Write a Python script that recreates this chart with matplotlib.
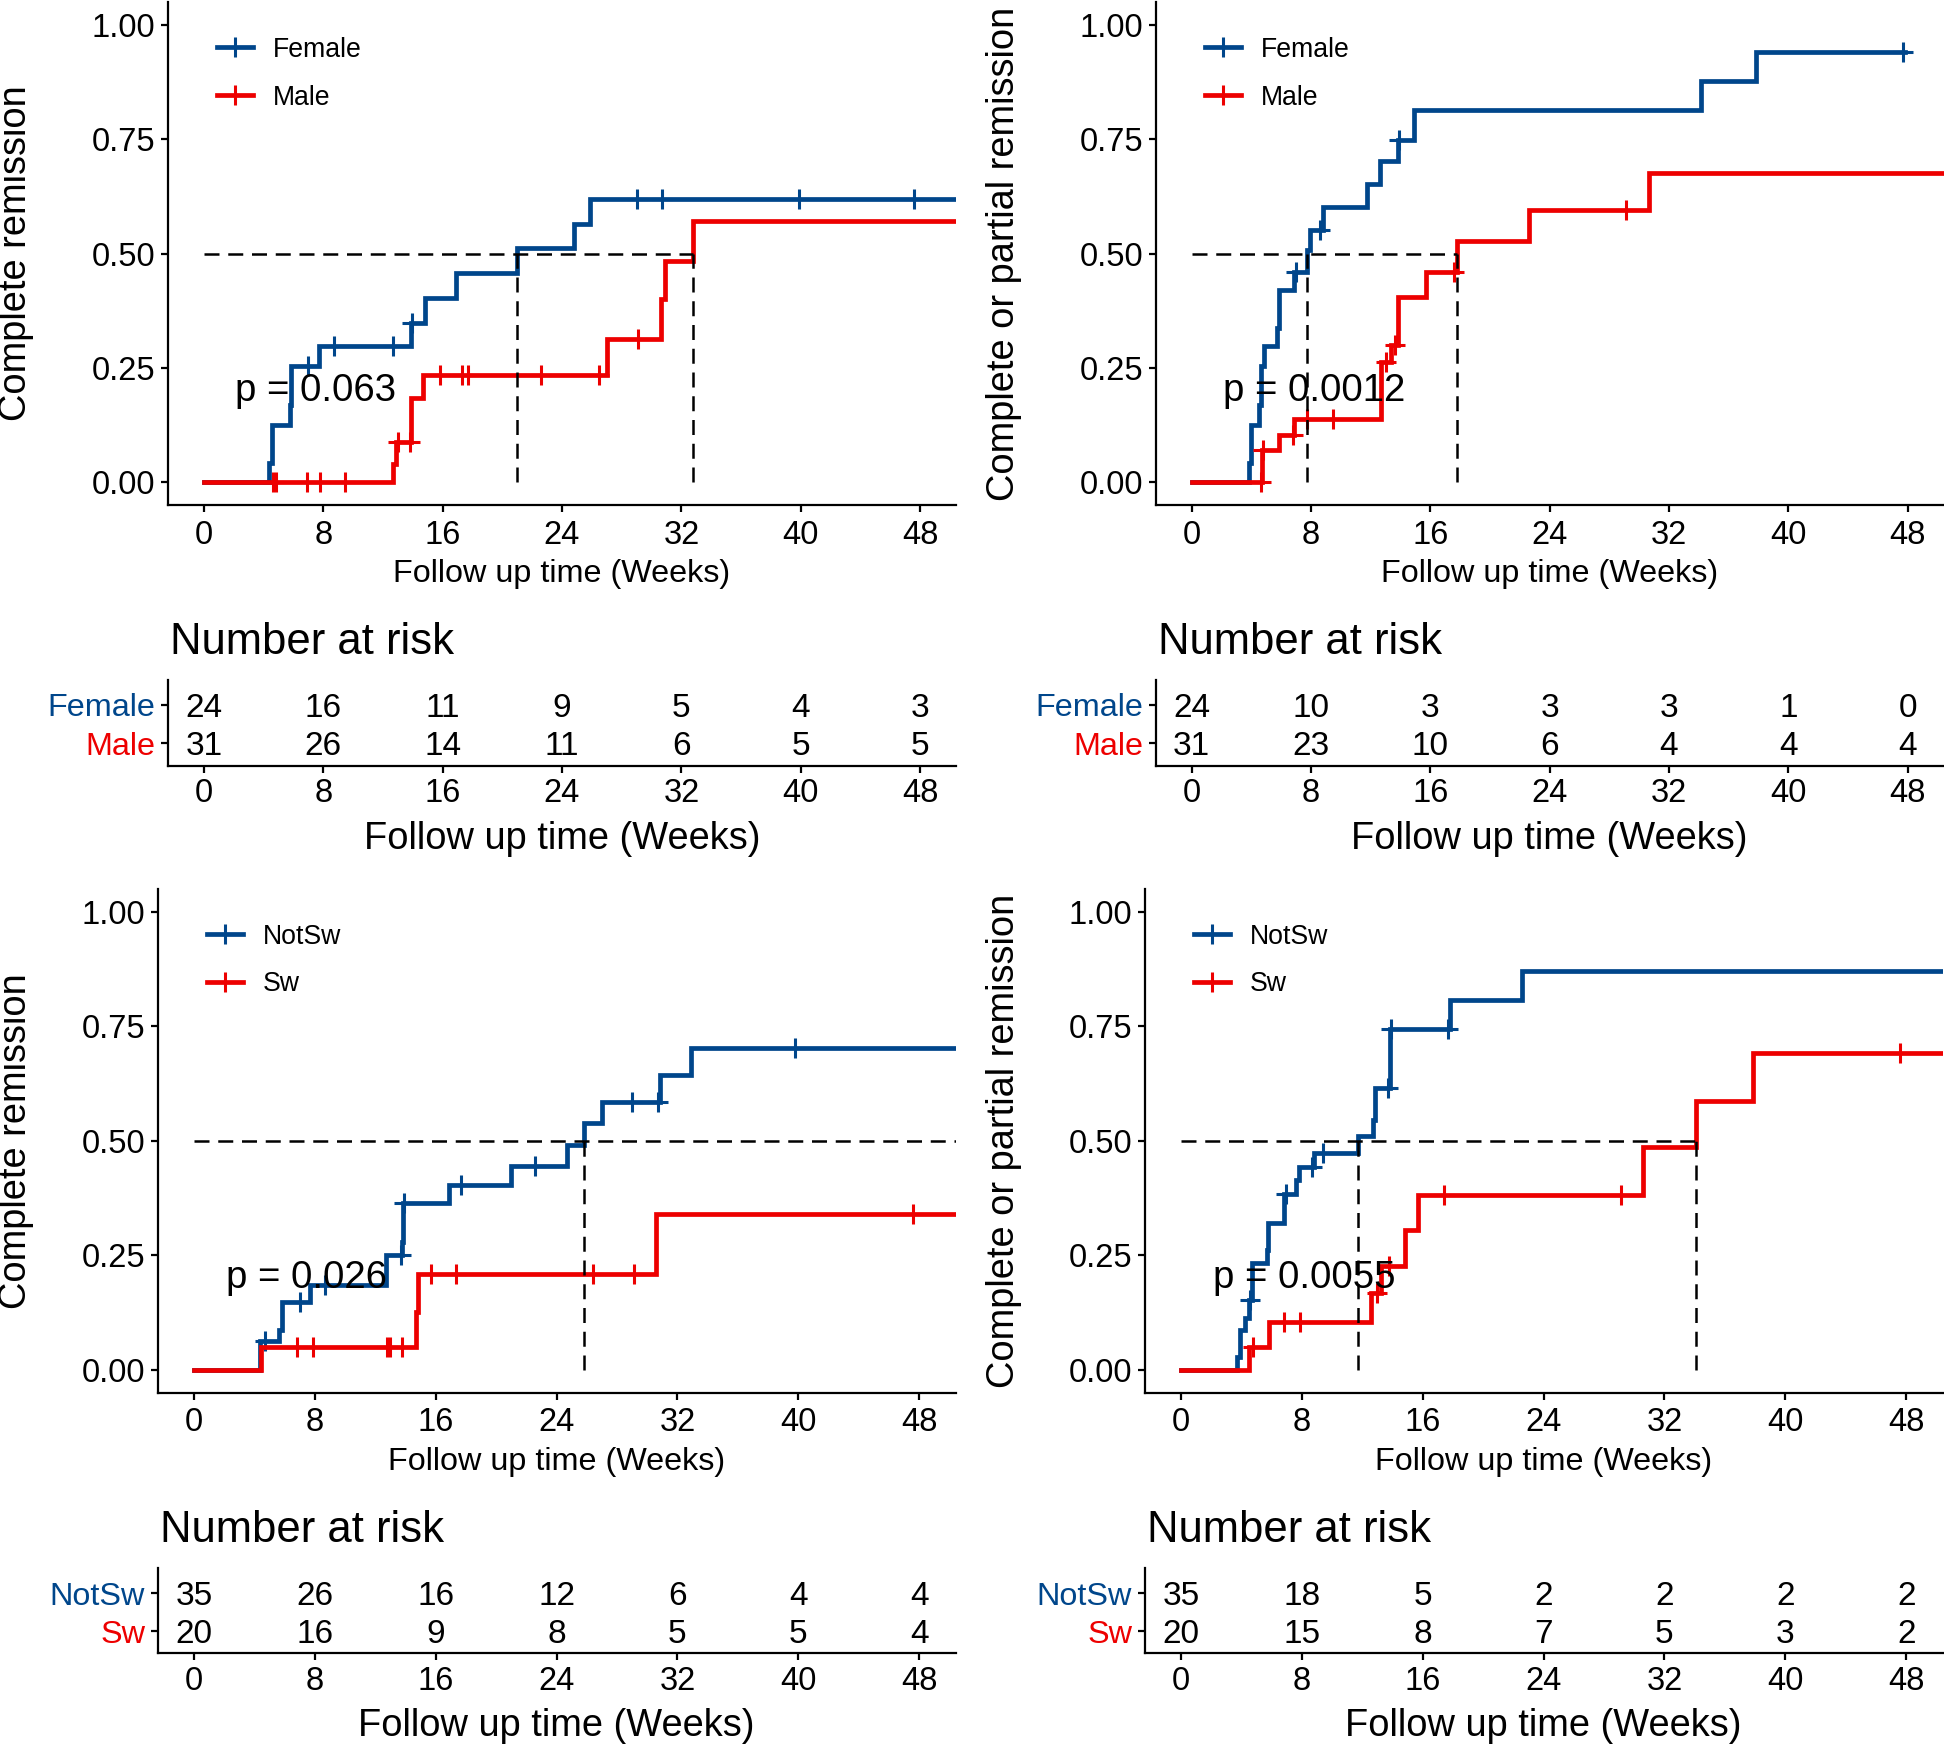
import numpy as np
import matplotlib
matplotlib.use("Agg")
import matplotlib.pyplot as plt
from matplotlib.lines import Line2D

plt.rcParams['font.family'] = ['Liberation Sans', 'DejaVu Sans']

BLUE = '#00468B'
RED = '#ED0000'

TIME_TICKS = [0, 8, 16, 24, 32, 40, 48]
Y_TICKS = [0.0, 0.25, 0.5, 0.75, 1.0]
X_LABEL = 'Follow up time (Weeks)'

# ---- panel A : sex, complete remission ----
a_labels = ['Female', 'Male']
a_ylabel = 'Complete remission'
a_f_t = [0, 4.38, 4.55, 5.77, 5.87, 7.7, 13.9, 14.8, 16.9, 21.0, 24.8, 25.9, 55]
a_f_s = [0, 0.042, 0.125, 0.169, 0.253, 0.297, 0.349, 0.402, 0.457, 0.511, 0.565, 0.619, 0.619]
a_f_cens = [7.0, 8.7, 12.7, 13.95, 29.0, 30.7, 39.9, 47.6]
a_m_t = [0, 12.7, 12.9, 13.9, 14.7, 27.0, 30.6, 30.9, 32.8, 55]
a_m_s = [0, 0.04, 0.087, 0.184, 0.235, 0.313, 0.40, 0.484, 0.571, 0.571]
a_m_cens = [4.66, 4.83, 6.91, 7.78, 9.45, 13.0, 13.8, 15.8, 17.3, 17.7, 22.6, 26.5, 29.1]
a_medians = [21.0, 32.8]
a_pval = 'p = 0.063'
a_risk = [[24, 16, 11, 9, 5, 4, 3],
          [31, 26, 14, 11, 6, 5, 5]]

# ---- panel B : sex, complete or partial remission ----
b_labels = ['Female', 'Male']
b_ylabel = 'Complete or partial remission'
b_f_t = [0, 3.84, 4.01, 4.53, 4.64, 4.88, 5.74, 5.84, 6.87, 7.74, 7.91, 8.83, 11.76,
         12.62, 13.86, 14.89, 34.18, 37.86, 47.8]
b_f_s = [0, 0.042, 0.125, 0.169, 0.253, 0.297, 0.337, 0.420, 0.460, 0.508, 0.552, 0.601,
         0.652, 0.702, 0.748, 0.814, 0.877, 0.940, 0.940]
b_f_cens = [6.97, 8.6, 13.9, 47.7]
b_m_t = [0, 4.70, 5.84, 6.87, 12.73, 13.35, 13.86, 15.72, 17.82, 22.61, 30.63, 55]
b_m_s = [0, 0.071, 0.103, 0.138, 0.262, 0.300, 0.404, 0.460, 0.528, 0.595, 0.677, 0.677]
b_m_cens = [4.65, 4.8, 6.8, 7.73, 9.45, 13.05, 13.65, 17.6, 29.15]
b_medians = [7.74, 17.82]
b_pval = 'p = 0.0012'
b_risk = [[24, 10, 3, 3, 3, 1, 0],
          [31, 23, 10, 6, 4, 4, 4]]

# ---- panel C : switch, complete remission ----
c_labels = ['NotSw', 'Sw']
c_ylabel = 'Complete remission'
c_n_t = [0, 4.34, 5.63, 5.81, 7.69, 12.74, 13.77, 13.84, 16.85, 20.95, 24.71, 25.8,
         27.0, 30.83, 32.88, 55]
c_n_s = [0, 0.064, 0.087, 0.149, 0.185, 0.251, 0.28, 0.364, 0.404, 0.445, 0.491, 0.538,
         0.585, 0.644, 0.702, 0.702]
c_n_cens = [4.68, 7.0, 8.7, 13.67, 13.88, 17.7, 22.56, 29.0, 30.7, 39.8]
c_s_t = [0, 4.44, 14.69, 14.8, 30.59, 55]
c_s_s = [0, 0.051, 0.127, 0.209, 0.340, 0.340]
c_s_cens = [6.83, 7.86, 12.75, 12.99, 13.74, 15.72, 17.36, 26.42, 29.15, 47.62]
c_medians = [25.8, None]
c_pval = 'p = 0.026'
c_risk = [[35, 26, 16, 12, 6, 4, 4],
          [20, 16, 9, 8, 5, 5, 4]]

# ---- panel D : switch, complete or partial remission ----
d_labels = ['NotSw', 'Sw']
d_ylabel = 'Complete or partial remission'
d_n_t = [0, 3.73, 3.90, 4.24, 4.48, 4.68, 5.67, 5.77, 6.85, 7.63, 7.80, 8.82, 11.71,
         12.72, 12.83, 13.84, 17.81, 22.57, 55]
d_n_s = [0, 0.029, 0.087, 0.113, 0.153, 0.234, 0.262, 0.321, 0.385, 0.415, 0.444, 0.473,
         0.511, 0.545, 0.615, 0.745, 0.807, 0.871, 0.871]
d_n_cens = [4.58, 6.96, 8.65, 9.43, 13.67, 13.9, 17.65]
d_s_t = [0, 4.51, 5.84, 12.56, 13.23, 14.83, 15.71, 30.61, 34.1, 37.84, 55]
d_s_s = [0, 0.051, 0.104, 0.167, 0.227, 0.305, 0.382, 0.486, 0.588, 0.691, 0.691]
d_s_cens = [4.8, 6.85, 7.87, 12.96, 13.74, 17.4, 29.1, 47.6]
d_medians = [11.71, 34.1]
d_pval = 'p = 0.0055'
d_risk = [[35, 18, 5, 2, 2, 2, 2],
          [20, 15, 8, 7, 5, 3, 2]]

# layout in pixels of the 1944x1746 picture
W, H = 1944, 1746
XLIM = (-2.4, 50.4)
LW_AX = 1.6
LW_CURVE = 3.4


def rect(left, top, right, bottom):
    return [left / W, 1 - bottom / H, (right - left) / W, (bottom - top) / H]


def style_axes(ax, xpad=4):
    for side in ['top', 'right']:
        ax.spines[side].set_visible(False)
    for side in ['left', 'bottom']:
        ax.spines[side].set_linewidth(LW_AX)
    ax.tick_params(width=LW_AX, length=5, labelsize=23.5, pad=4)
    ax.tick_params(axis='x', pad=xpad)


def value_at(times, surv, t):
    i = np.searchsorted(np.array(times), np.array(t), side='right') - 1
    return np.array(surv)[i]


def draw_km(ax, curves, labels, medians, pval, ylabel, box, ylab_x):
    left, top, right, bottom = box
    style_axes(ax, xpad=5.5)
    handles = []
    for (t, s, cens), col, lab in zip(curves, [BLUE, RED], labels):
        ax.step(t, s, where='post', color=col, lw=LW_CURVE, solid_joinstyle='miter')
        ax.plot(cens, value_at(t, s, cens), ls='none', marker='+', ms=14, mew=2.2, color=col)
        handles.append(Line2D([0], [0], color=col, lw=LW_CURVE, marker='+', ms=14, mew=2.2))
    ax.set_xlim(*XLIM)
    ax.set_ylim(-0.05, 1.05)
    # median lines
    hmax = XLIM[1] if None in medians else max(medians)
    ax.plot([0, hmax], [0.5, 0.5], color='black', lw=1.8, ls=(0, (6, 3.5)))
    for m in medians:
        if m is not None:
            ax.plot([m, m], [0, 0.5], color='black', lw=1.8, ls=(0, (6, 3.5)))
    ax.text(2.1, 0.2, pval, fontsize=27.6, ha='left', va='center')
    ax.set_xticks(TIME_TICKS)
    ax.set_yticks(Y_TICKS)
    ax.set_yticklabels(['%.2f' % v for v in Y_TICKS])
    ax.set_xlabel(X_LABEL, fontsize=23.3, va='center')
    ax.xaxis.set_label_coords(0.5, -69.0 / (bottom - top))
    ax.set_ylabel(ylabel, fontsize=27.4, va='center')
    ax.yaxis.set_label_coords((ylab_x - left) / (right - left), 0.5)
    ax.legend(handles, labels, loc='upper left', bbox_to_anchor=(0.062, 0.931),
              frameon=False, fontsize=19.2, handlelength=1.35, handletextpad=0.75,
              labelspacing=0.82, borderpad=0, borderaxespad=0)


def draw_risk(ax, labels, counts, box):
    left, top, right, bottom = box
    style_axes(ax)
    rows = [2, 1]
    for row, vals in zip(rows, counts):
        for x, n in zip(TIME_TICKS, vals):
            ax.text(x, row, str(n), fontsize=24, ha='center', va='center_baseline')
    ax.set_xlim(*XLIM)
    ax.set_ylim(0.415, 2.65)
    ax.set_xticks(TIME_TICKS)
    ax.set_yticks(rows)
    ax.set_yticklabels(labels, fontsize=23.3)
    for lab, col in zip(ax.get_yticklabels(), [BLUE, RED]):
        lab.set_color(col)
    ax.set_xlabel(X_LABEL, fontsize=27.4, va='center')
    ax.xaxis.set_label_coords(0.5, -73.0 / (bottom - top))
    ax.text(0.003, 1 + 37.5 / (bottom - top), 'Number at risk', fontsize=31.4,
            ha='left', va='center', transform=ax.transAxes)


fig = plt.figure(figsize=(W / 100, H / 100), dpi=100)

km_boxes = [(168, 2, 956, 505), (1155.7, 2, 1943.5, 505),
            (157.7, 888.8, 955.5, 1392.9), (1144.7, 888.8, 1942.5, 1392.9)]
risk_boxes = [(168, 680, 956, 765.7), (1155.7, 680, 1943.5, 765.7),
              (157.7, 1568.3, 955.5, 1653.3), (1144.7, 1568.3, 1942.5, 1653.3)]
ylab_xs = [16, 1004, 16, 1004]

panels = [
    ([(a_f_t, a_f_s, a_f_cens), (a_m_t, a_m_s, a_m_cens)], a_labels, a_medians, a_pval, a_ylabel, a_risk),
    ([(b_f_t, b_f_s, b_f_cens), (b_m_t, b_m_s, b_m_cens)], b_labels, b_medians, b_pval, b_ylabel, b_risk),
    ([(c_n_t, c_n_s, c_n_cens), (c_s_t, c_s_s, c_s_cens)], c_labels, c_medians, c_pval, c_ylabel, c_risk),
    ([(d_n_t, d_n_s, d_n_cens), (d_s_t, d_s_s, d_s_cens)], d_labels, d_medians, d_pval, d_ylabel, d_risk),
]

for (curves, labels, medians, pval, ylabel, risk), kb, rb, yx in zip(panels, km_boxes, risk_boxes, ylab_xs):
    ax = fig.add_axes(rect(*kb))
    draw_km(ax, curves, labels, medians, pval, ylabel, kb, yx)
    axr = fig.add_axes(rect(*rb))
    draw_risk(axr, labels, risk, rb)

fig.savefig('out.png', dpi=100)
